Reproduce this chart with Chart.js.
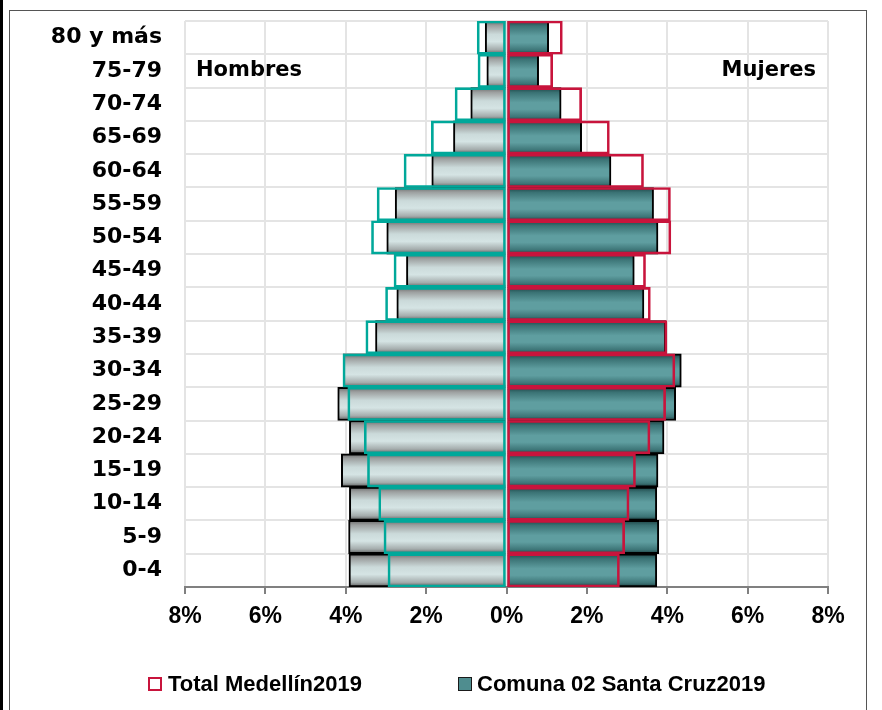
<!DOCTYPE html>
<html>
<head>
<meta charset="utf-8">
<script src="https://cdn.jsdelivr.net/npm/chart.js@4.4.1/dist/chart.umd.min.js"></script>
<style>
  html, body { margin: 0; padding: 0; background: #fff; }
  #wrap { position: relative; width: 882px; height: 710px; overflow: hidden;
          font-family: "Liberation Sans", Arial, sans-serif; font-weight: bold; }
  #frame { position: absolute; left: 9px; top: 10px; width: 856px; height: 740px; border: 1px solid #555; }
  #edge { position: absolute; left: 0; top: 0; width: 3px; height: 710px; background: #000; }
  canvas { position: absolute; left: 0; top: 0; }
  .legend { position: absolute; top: 671px; font-size: 22px; line-height: 26px;
            display: flex; align-items: center; color: #000; }
  .box { box-sizing: border-box; width: 14px; height: 14px; margin-right: 6px; }
</style>
</head>
<body>
<div id="wrap">
  <div id="edge"></div>
  <div id="frame"></div>
  <canvas id="pyramid" width="882" height="710"></canvas>
  <div class="legend" style="left:148px">
    <span class="box" style="border:2px solid #c8143c"></span>Total Medellín2019
  </div>
  <div class="legend" style="left:458px">
    <span class="box" style="background:#4f8d8f;border:1px solid #1a1a1a;margin-right:5px"></span>Comuna 02 Santa Cruz2019
  </div>
</div>
<script>
const ageGroups = ["80 y más", "75-79", "70-74", "65-69", "60-64", "55-59", "50-54", "45-49", "40-44",
    "35-39", "30-34", "25-29", "20-24", "15-19", "10-14", "5-9", "0-4"];
// porcentajes, de arriba (80 y más) hacia abajo (0-4)
const menComuna = [0.53, 0.49, 0.89, 1.32, 1.86, 2.77, 2.98, 2.49, 2.73, 3.26, 4.06, 4.20, 3.91, 4.11, 3.91, 3.93, 3.92];
const womenComuna = [1.05, 0.80, 1.36, 1.87, 2.60, 3.66, 3.77, 3.18, 3.42, 3.96, 4.35, 4.21, 3.92, 3.77, 3.74, 3.79, 3.74];
const menTotal = [0.73, 0.71, 1.28, 1.87, 2.55, 3.22, 3.36, 2.80, 3.01, 3.50, 4.07, 3.95, 3.54, 3.46, 3.18, 3.05, 2.95];
const womenTotal = [1.39, 1.15, 1.87, 2.56, 3.41, 4.08, 4.09, 3.46, 3.58, 3.99, 4.19, 3.96, 3.57, 3.21, 3.05, 2.94, 2.81];
const xTicks = [-8, -6, -4, -2, 0, 2, 4, 6, 8];

const TICK_FONT = { family: '"Liberation Sans", Arial, sans-serif', size: 23, weight: "bold" };
const AGE_FONT = { family: '"DejaVu Sans", sans-serif', size: 22, weight: "bold" };
const TEAL = "#00a89a";
const CRIMSON = "#c8143c";

const menStops = [[0, "#6a6a6a"], [0.14, "#9c9f9f"], [0.4, "#cbdada"], [0.62, "#d5e4e4"], [0.86, "#a4acac"], [1, "#5a5a5a"]];
const womenStops = [[0, "#1d4344"], [0.15, "#3a7274"], [0.45, "#5f9ea0"], [0.65, "#5f9ea0"], [0.88, "#3d7577"], [1, "#1c3d3e"]];

function barShade(stops) {
    return (context) => {
        const chart = context.chart;
        const area = chart.chartArea;
        const yScale = chart.scales.y;
        if (!area || !yScale || context.dataIndex === undefined) return stops[3][1];
        const band = (area.bottom - area.top) / ageGroups.length;
        const mid = yScale.getPixelForValue(context.dataIndex);
        const grad = chart.ctx.createLinearGradient(0, mid - band / 2, 0, mid + band / 2);
        stops.forEach(([pos, color]) => grad.addColorStop(pos, color));
        return grad;
    };
}

const sideLabels = {
    id: "sideLabels",
    afterDraw(chart) {
        const { ctx, chartArea, scales } = chart;
        const y = scales.y.getPixelForValue(1);
        ctx.save();
        ctx.font = `bold 21px ${AGE_FONT.family}`;
        ctx.fillStyle = "#000";
        ctx.textBaseline = "middle";
        ctx.textAlign = "left";
        ctx.fillText("Hombres", chartArea.left + 11, y);
        ctx.textAlign = "right";
        ctx.fillText("Mujeres", chartArea.right - 12, y);
        ctx.restore();
    },
};

const common = { grouped: false, categoryPercentage: 1, barPercentage: 1 };

new Chart(document.getElementById("pyramid").getContext("2d"), {
    type: "bar",
    data: {
        labels: ageGroups,
        datasets: [
            { ...common, label: "Total Medellín2019 Mujeres", data: womenTotal,
              backgroundColor: "rgba(0,0,0,0)", borderColor: CRIMSON, borderWidth: 2, borderSkipped: false },
            { ...common, label: "Total Medellín2019 Hombres", data: menTotal.map((v) => -v),
              backgroundColor: "rgba(0,0,0,0)", borderColor: TEAL, borderWidth: 2, borderSkipped: false },
            { ...common, label: "Comuna 02 Santa Cruz2019 Mujeres", data: womenComuna,
              backgroundColor: barShade(womenStops), borderColor: "#000", borderWidth: 2 },
            { ...common, label: "Comuna 02 Santa Cruz2019 Hombres", data: menComuna.map((v) => -v),
              backgroundColor: barShade(menStops), borderColor: "#000", borderWidth: 2 },
        ],
    },
    options: {
        indexAxis: "y",
        responsive: false,
        animation: false,
        devicePixelRatio: 1,
        layout: { padding: { left: 10, top: 21, right: 54, bottom: 73 } },
        plugins: {
            legend: { display: false },
            tooltip: { enabled: false },
        },
        scales: {
            x: {
                type: "linear",
                min: -8,
                max: 8,
                afterBuildTicks: (scale) => { scale.ticks = xTicks.map((v) => ({ value: v })); },
                afterFit: (scale) => { scale.height = 50; scale.paddingLeft = 0; scale.paddingRight = 0; },
                ticks: {
                    color: "#000",
                    font: TICK_FONT,
                    padding: 9,
                    callback: (v) => Math.abs(v) + "%",
                },
                grid: { color: "#e4e4e4", lineWidth: 2, tickColor: "#808080", tickLength: 7 },
                border: { color: "#808080", width: 2 },
            },
            y: {
                afterFit: (scale) => { scale.width = 175; scale.paddingTop = 0; scale.paddingBottom = 0; },
                ticks: { color: "#000", font: AGE_FONT, padding: 23 },
                grid: { color: "#e4e4e4", lineWidth: 2, drawTicks: false },
                border: { display: false },
            },
        },
    },
    plugins: [sideLabels],
});
</script>
</body>
</html>
